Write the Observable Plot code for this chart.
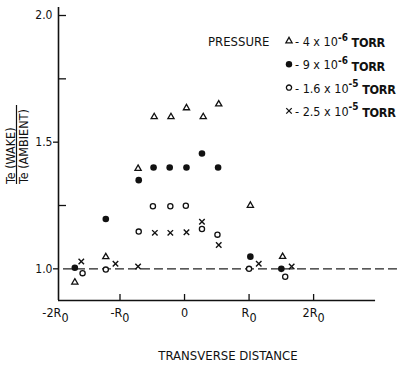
<!DOCTYPE html>
<html><head><meta charset="utf-8">
<script src="https://cdn.jsdelivr.net/npm/d3@7"></script>
<script src="https://cdn.jsdelivr.net/npm/@observablehq/plot@0.6"></script>
<style>
body{margin:0;background:#fff;}
#chart{position:relative;width:399px;height:365px;}
</style></head><body><div id="chart"></div>
<script>
// ---- data (x in units of R0, y = Te(wake)/Te(ambient)) ----
const seriesLabels = ["4 x 10", "9 x 10", "1.6 x 10", "2.5 x 10"];
const seriesExponents = ["-6", "-6", "-5", "-5"];
const xTri   = [-1.70, -1.22, -0.72, -0.47, -0.21, 0.03, 0.29, 0.53, 1.02, 1.52];
const yTri   = [0.947, 1.047, 1.396, 1.600, 1.600, 1.635, 1.600, 1.650, 1.250, 1.048];
const xFill  = [-1.70, -1.22, -0.71, -0.48, -0.23, 0.03, 0.27, 0.52, 1.02, 1.50];
const yFill  = [1.004, 1.197, 1.350, 1.400, 1.400, 1.400, 1.455, 1.400, 1.048, 1.000];
const xOpen  = [-1.58, -1.22, -0.71, -0.49, -0.22, 0.02, 0.27, 0.51, 1.00, 1.56];
const yOpen  = [0.983, 0.997, 1.147, 1.247, 1.247, 1.249, 1.157, 1.135, 1.000, 0.969];
const xCross = [-1.60, -1.07, -0.72, -0.46, -0.22, 0.03, 0.27, 0.53, 1.15, 1.66];
const yCross = [1.029, 1.020, 1.009, 1.142, 1.142, 1.144, 1.186, 1.094, 1.020, 1.009];

const xTickValues = [-2, -1, 0, 1, 2];
const xTickLabels = ["-2R0", "-R0", "0", "R0", "2R0"];
const xTickMarks = [-1, 0, 1, 2];
const yTickLabelValues = [1.0, 1.5, 2.0];
const yTicksLeft = [1.0, 1.5];
const yTicksRight = [1.25, 1.75, 2.0];
const referenceLevel = [1.0];

// ---- layout ----
const W = 399, H = 365;
const mL = 58, mR = 2, mT = 7, mB = 65;
const xDomain = [-1.953, 3.30];
const yDomain = [0.875, 2.0316];
const xAxisEnd = 2.96;
const dashStart = -1.876;
const pxX = (W - mL - mR) / (xDomain[1] - xDomain[0]);
const pxY = (H - mT - mB) / (yDomain[1] - yDomain[0]);
const FONT = "'DejaVu Sans Condensed','Liberation Sans Narrow','Roboto Condensed','DejaVu Sans',sans-serif";

const pts = (xs, ys) => xs.map((x, i) => ({x, y: ys[i]}));

const plot = Plot.plot({
  width: W, height: H,
  marginLeft: mL, marginRight: mR, marginTop: mT, marginBottom: mB,
  style: {fontFamily: FONT, fontSize: "12px", background: "white", color: "#111", overflow: "visible"},
  x: {domain: xDomain, axis: null},
  y: {domain: yDomain, axis: null},
  marks: [
    Plot.ruleY(referenceLevel, {x1: dashStart, x2: xDomain[1], stroke: "#222", strokeWidth: 1.2, strokeDasharray: "9,4"}),
    Plot.ruleX([xDomain[0]], {y1: yDomain[0], y2: yDomain[1], stroke: "#111", strokeWidth: 1.6}),
    Plot.ruleY([yDomain[0]], {x1: xDomain[0], x2: xAxisEnd, stroke: "#111", strokeWidth: 1.6}),
    Plot.ruleY(yTicksLeft, {x1: xDomain[0] - 5 / pxX, x2: xDomain[0], stroke: "#111", strokeWidth: 1.3}),
    Plot.ruleY(yTicksRight, {x1: xDomain[0], x2: xDomain[0] + 8 / pxX, stroke: "#111", strokeWidth: 1.3}),
    Plot.ruleX(xTickMarks, {y1: yDomain[0], y2: yDomain[0] + 6 / pxY, stroke: "#111", strokeWidth: 1.3}),
    Plot.axisY({ticks: yTickLabelValues, tickSize: 0, tickPadding: 6, tickFormat: d3.format(".1f"), label: null, fontSize: 12}),
    Plot.axisX({ticks: xTickValues, tickSize: 0, tickPadding: 8, tickFormat: d => xTickLabels[xTickValues.indexOf(d)], label: null, fontSize: 12.5, anchor: "bottom"}),
    Plot.dot(pts(xTri, yTri), {x: "x", y: "y", symbol: "triangle", r: 2.3, fill: "white", stroke: "#111", strokeWidth: 1.3}),
    Plot.dot(pts(xFill, yFill), {x: "x", y: "y", symbol: "circle", r: 3.3, fill: "#111", stroke: "none"}),
    Plot.dot(pts(xOpen, yOpen), {x: "x", y: "y", symbol: "circle", r: 2.6, fill: "white", stroke: "#111", strokeWidth: 1.3}),
    Plot.dot(pts(xCross, yCross), {x: "x", y: "y", symbol: "times", r: 2.6, stroke: "#111", strokeWidth: 1.4})
  ]
});

const svg = d3.select(plot);

// subscript 0 on R0 tick labels
svg.selectAll("g[aria-label='x-axis tick label'] text").each(function() {
  const t = d3.select(this);
  const s = t.text();
  if (s.includes("R")) {
    const base = s.slice(0, -1);
    t.text(null);
    t.append("tspan").text(base);
    t.append("tspan").attr("dy", "0.35em").text("0");
  }
});

// x-axis title
svg.append("text").attr("x", 228).attr("y", 360).attr("text-anchor", "middle")
  .attr("font-family", FONT).attr("font-size", 13).attr("fill", "#111")
  .text("TRANSVERSE DISTANCE");

// y-axis title (rotated fraction)
const yl = svg.append("g").attr("transform", "translate(16.5,184) rotate(-90)")
  .attr("font-family", FONT).attr("font-size", 12.5).attr("fill", "#111").attr("text-anchor", "start");
yl.append("text").attr("x", 0).attr("y", -2).text("Te (WAKE)");
yl.append("line").attr("x1", 0).attr("x2", 79).attr("y1", 0).attr("y2", 0).attr("stroke", "#111").attr("stroke-width", 1.2);
yl.append("text").attr("x", 0).attr("y", 11.5).text("Te (AMBIENT)");

// legend
const lg = svg.append("g").attr("font-family", FONT).attr("fill", "#111").attr("text-anchor", "start");
lg.append("text").attr("x", 208).attr("y", 46).attr("font-size", 13).text("PRESSURE");
const symbols = [
  {type: d3.symbolTriangle, r: 2.3, fill: "white", stroke: "#111"},
  {type: d3.symbolCircle, r: 3.2, fill: "#111", stroke: "none"},
  {type: d3.symbolCircle, r: 2.6, fill: "white", stroke: "#111"},
  {type: d3.symbolTimes, r: 2.6, fill: "none", stroke: "#111"}
];
seriesLabels.forEach((lab, i) => {
  const cy = 41 + i * 23.3;
  const s = symbols[i];
  lg.append("path").attr("transform", `translate(289,${cy})`)
    .attr("d", d3.symbol(s.type, Math.PI * s.r * s.r)())
    .attr("fill", s.fill).attr("stroke", s.stroke).attr("stroke-width", 1.3);
  const t = lg.append("text").attr("x", 295).attr("y", cy + 5).attr("font-size", 12.5);
  t.append("tspan").text("- " + lab);
  t.append("tspan").attr("dy", "-0.55em").attr("font-size", 10).attr("font-weight", "bold").text(seriesExponents[i]);
  t.append("tspan").attr("dy", "0.55em").attr("font-weight", "bold").attr("letter-spacing", "-0.3").text(" TORR");
});

document.getElementById("chart").appendChild(plot);
</script></body></html>
